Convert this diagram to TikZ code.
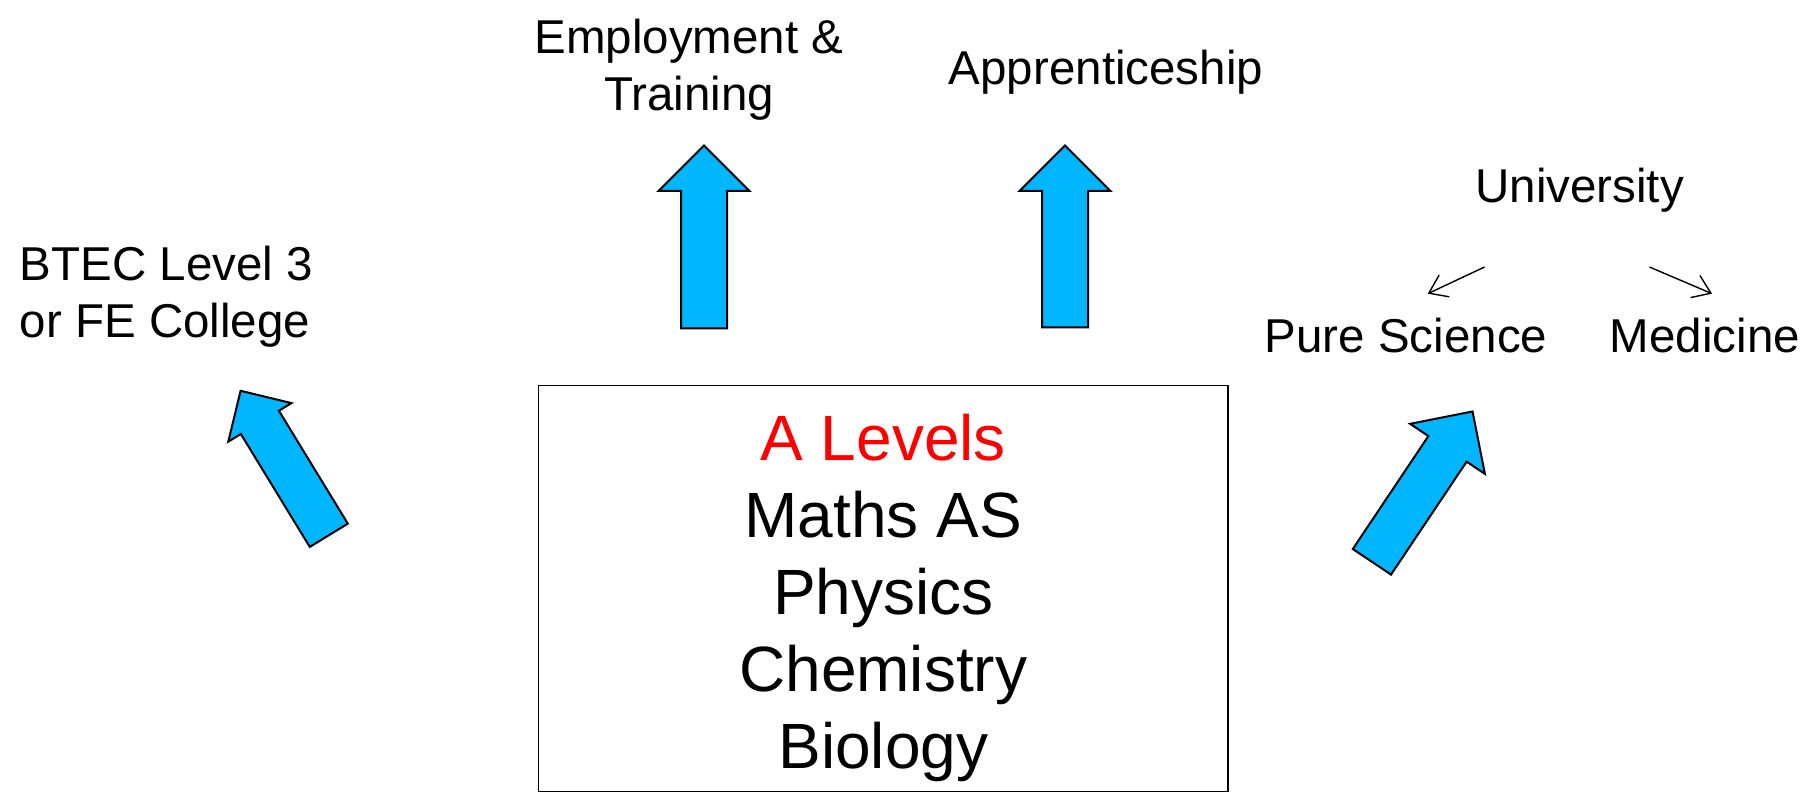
\documentclass[tikz,border=0pt]{standalone}
\usepackage{fontspec}
\setmainfont{Liberation Sans}
\usetikzlibrary{arrows.meta}
\definecolor{arrowblue}{RGB}{0,183,255}
\tikzset{
  blockarr/.style={draw=black, fill=arrowblue, line width=2pt, line join=miter},
  small/.style={inner sep=0pt, font=\fontsize{47.5}{57}\selectfont},
  big/.style={inner sep=0pt, font=\fontsize{64}{77}\selectfont, align=center},
  thinarr/.style={line width=1.4pt, -{Straight Barb[length=17pt,width=24pt,line width=1.4pt]}},
}
% x y angle length shaft-half head-half head-length
\newcommand\blockarrow[7]{%
  \draw[blockarr, shift={(#1,#2)}, rotate=#3]
    (0,{-#5}) -- ({#4-#7},{-#5}) -- ({#4-#7},{-#6}) -- (#4,0)
    -- ({#4-#7},{#6}) -- ({#4-#7},{#5}) -- (0,{#5}) -- cycle;}
\begin{document}
\begin{tikzpicture}[x=1pt,y=1pt]
\useasboundingbox (0,0) rectangle (1820,794);
% main box
\node[draw=black, line width=1.5pt, minimum width=689.4pt, minimum height=406.2pt, inner sep=0pt] (box) at (883.3,205.5) {};
\node[big, anchor=north] (alevels) at (883.3,380) {\textcolor{red}{A Levels}\\Maths AS\\Physics\\Chemistry\\Biology};
% destination labels
\node[small, align=center, anchor=north] (employ) at (689,775.5) {Employment \&\\Training};
\node[small, anchor=base] (appr) at (1106,709.3) {Apprenticeship};
\node[small, align=left, anchor=north west] (btec) at (19.7,548) {BTEC Level 3\\or FE College};
\node[small, anchor=base] (univ) at (1579.7,591) {University};
\node[small, anchor=base] (pure) at (1406,441) {Pure Science};
\node[small, anchor=base] (med) at (1705,441) {Medicine};
% block arrows
\blockarrow{704}{465.5}{90}{183}{23}{45.5}{45.5}
\blockarrow{1065}{466.5}{90}{182}{23}{45.5}{45.5}
\blockarrow{328.8}{258.7}{121.4}{169.3}{22.3}{37}{37}
\blockarrow{1371.9}{232.2}{56.2}{180.9}{23}{45}{45}
% university branches
\coordinate (u1) at (1484.6,527);
\coordinate (p1) at (1427.7,500.3);
\coordinate (u2) at (1649.4,527);
\coordinate (m1) at (1712,500.3);
\draw[thinarr] (u1) -- (p1);
\draw[thinarr] (u2) -- (m1);
\end{tikzpicture}
\end{document}
